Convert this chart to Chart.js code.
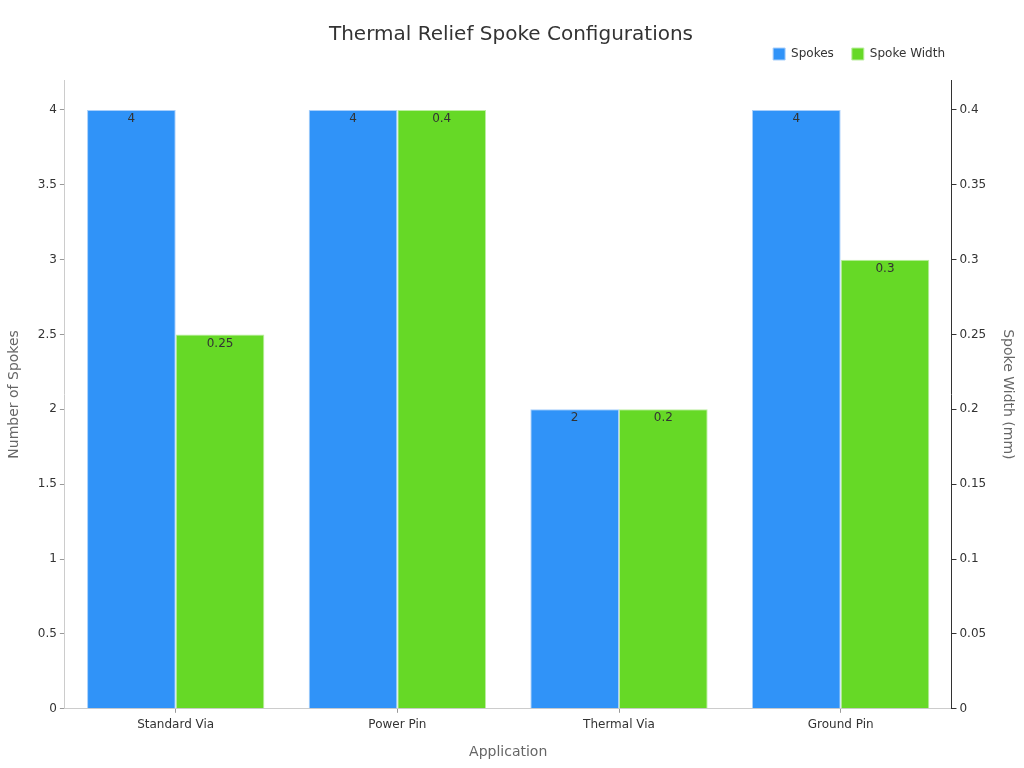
<!DOCTYPE html>
<html>
<head>
<meta charset="utf-8">
<script src="https://cdn.jsdelivr.net/npm/chart.js@4"></script>
<style>
  html, body { margin: 0; padding: 0; background: #fff; }
  #wrap { width: 1024px; height: 768px; }
</style>
</head>
<body>
<div id="wrap"><canvas id="spokeChart"></canvas></div>
<script>
// data
const categories = ['Standard Via', 'Power Pin', 'Thermal Via', 'Ground Pin'];
const spokes = [4, 4, 2, 4];
const spokeWidth = [0.25, 0.4, 0.2, 0.3];
const spokeTicks = [0, 0.5, 1, 1.5, 2, 2.5, 3, 3.5, 4];
const widthTicks = [0, 0.05, 0.1, 0.15, 0.2, 0.25, 0.3, 0.35, 0.4];

const fontFamily = '"DejaVu Sans", sans-serif';

// value labels drawn just inside the top of each bar
const barLabels = {
    id: 'barLabels',
    afterDatasetsDraw(chart) {
        const ctx = chart.ctx;
        ctx.save();
        ctx.font = '12px ' + fontFamily;
        ctx.fillStyle = '#333';
        ctx.textAlign = 'center';
        ctx.textBaseline = 'middle';
        chart.data.datasets.forEach((ds, i) => {
            const meta = chart.getDatasetMeta(i);
            meta.data.forEach((bar, j) => {
                ctx.fillText(String(ds.data[j]), bar.x, bar.y + 9);
            });
        });
        ctx.restore();
    }
};

// legend keeps a fixed height, then gets moved to the top right
const legendPlace = {
    id: 'legendPlace',
    beforeLayout(chart) {
        const lg = chart.legend;
        if (lg && !lg._patched) {
            const fit = lg.fit;
            lg.fit = function () {
                fit.call(this);
                this.height = 33;
            };
            lg._patched = true;
        }
    },
    afterLayout(chart) {
        const lg = chart.legend;
        const h = lg.bottom - lg.top;
        lg.top = 30;
        lg.bottom = lg.top + h;
        lg.right = 963;
    }
};

const ctx = document.getElementById('spokeChart').getContext('2d');
new Chart(ctx, {
    type: 'bar',
    data: {
        labels: categories,
        datasets: [
            {
                label: 'Spokes',
                data: spokes,
                backgroundColor: '#3093F8',
                borderColor: '#a8cffb',
                borderWidth: 1,
                yAxisID: 'y'
            },
            {
                label: 'Spoke Width',
                data: spokeWidth,
                backgroundColor: '#66D926',
                borderColor: '#bdeea2',
                borderWidth: 1,
                yAxisID: 'y1'
            }
        ]
    },
    options: {
        responsive: true,
        maintainAspectRatio: false,
        animation: false,
        categoryPercentage: 0.8,
        barPercentage: 1.0,
        layout: { padding: { left: 2, right: 4, top: 10, bottom: 3 } },
        plugins: {
            title: {
                display: true,
                text: 'Thermal Relief Spoke Configurations',
                color: '#333',
                font: { family: fontFamily, size: 20, weight: 'normal' },
                padding: { top: 13, bottom: 0 }
            },
            legend: {
                position: 'top',
                align: 'end',
                labels: {
                    color: '#333',
                    font: { family: fontFamily, size: 12 },
                    boxWidth: 12,
                    boxHeight: 12,
                    padding: 18
                }
            },
            tooltip: { enabled: false }
        },
        scales: {
            x: {
                grid: {
                    display: true,
                    drawOnChartArea: false,
                    offset: false,
                    tickLength: 4,
                    color: '#999'
                },
                border: { color: '#ccc' },
                ticks: { color: '#333', padding: 5, font: { family: fontFamily, size: 12 } },
                title: {
                    display: true,
                    text: 'Application',
                    color: '#666',
                    font: { family: fontFamily, size: 14 },
                    padding: { top: 7 }
                }
            },
            y: {
                position: 'left',
                min: 0,
                max: 4.2,
                afterBuildTicks(axis) {
                    axis.ticks = spokeTicks.map(v => ({ value: v }));
                },
                grid: { drawOnChartArea: false, tickLength: 5, color: '#999' },
                border: { color: '#ccc' },
                ticks: {
                    color: '#333',
                    font: { family: fontFamily, size: 12 },
                    callback: v => String(v)
                },
                title: {
                    display: true,
                    text: 'Number of Spokes',
                    color: '#666',
                    font: { family: fontFamily, size: 14 },
                    padding: { top: 4, bottom: 12 }
                }
            },
            y1: {
                position: 'right',
                min: 0,
                max: 0.42,
                afterBuildTicks(axis) {
                    axis.ticks = widthTicks.map(v => ({ value: v }));
                },
                grid: { drawOnChartArea: false, tickLength: 5, color: '#333' },
                border: { color: '#333' },
                ticks: {
                    color: '#333',
                    font: { family: fontFamily, size: 12 },
                    callback: v => String(v)
                },
                title: {
                    display: true,
                    text: 'Spoke Width (mm)',
                    color: '#666',
                    font: { family: fontFamily, size: 14 },
                    padding: { top: 4, bottom: 10 }
                }
            }
        }
    },
    plugins: [barLabels, legendPlace]
});
</script>
</body>
</html>
